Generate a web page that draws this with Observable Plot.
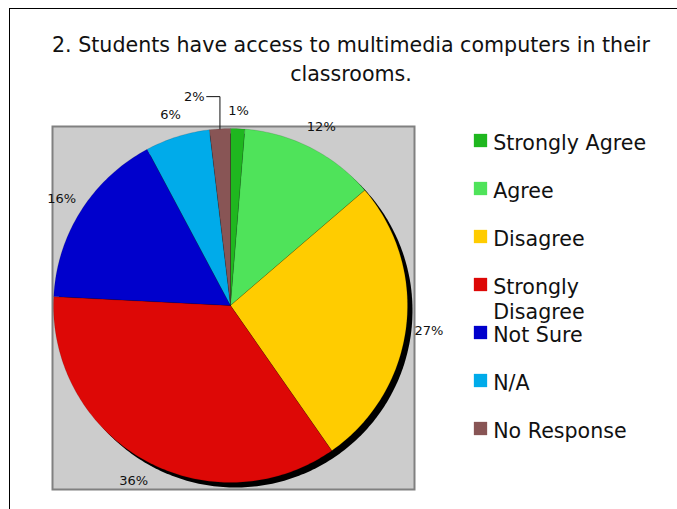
<!DOCTYPE html>
<html><head><meta charset="utf-8">
<script src="https://cdn.jsdelivr.net/npm/d3@7"></script>
<script src="https://cdn.jsdelivr.net/npm/@observablehq/plot@0.6"></script>
<style>
html,body{margin:0;padding:0;background:#fff;overflow:hidden;}
#wrap{position:relative;width:677px;height:509px;overflow:hidden;font-family:"DejaVu Sans",sans-serif;}
#box{position:absolute;left:9px;top:8px;width:900px;height:900px;border:1px solid #000;box-sizing:border-box;}
#title{position:absolute;left:40px;width:622px;top:31px;text-align:center;font-size:20.6px;line-height:29px;color:#111;}
#pie,#legend{position:absolute;top:0;}
#pie{left:0;} #legend{left:470px;}
</style></head><body>
<div id="wrap"><div id="box"></div><div id="title"></div><div id="pie"></div><div id="legend"></div></div>
<script>
const title = "2. Students have access to multimedia computers in their classrooms.";
const categories = ["Strongly Agree","Agree","Disagree","Strongly Disagree","Not Sure","N/A","No Response"];
const values = [1.3, 12.4, 26.6, 35.5, 16.4, 5.9, 1.9];
const valueLabels = ["1%","12%","27%","36%","16%","6%","2%"];
const colors = ["#1fb71f","#4fe35a","#ffcc00","#dd0806","#0000cc","#00abea","#885555"];

document.getElementById("title").textContent = title;

const arcs = d3.pie().sort(null).value(d => d)(values);
const slicePts = arcs.flatMap((a, i) => {
  const key = categories[i];
  const pts = [{key, x: 0, y: 0}];
  const n = Math.max(2, Math.ceil((a.endAngle - a.startAngle) / (2 * Math.PI) * 360));
  for (let k = 0; k <= n; k++) {
    const t = a.startAngle + (a.endAngle - a.startAngle) * k / n;
    pts.push({key, x: Math.sin(t), y: Math.cos(t)});
  }
  pts.push({key, x: 0, y: 0});
  return pts;
});
const circlePts = d3.range(0, 361).map(deg => ({x: Math.sin(deg * Math.PI / 180), y: Math.cos(deg * Math.PI / 180)}));

const R = 1.13;
const labelData = arcs.map((a, i) => {
  const m = (a.startAngle + a.endAngle) / 2;
  const r = (a.endAngle - a.startAngle) < 0.1 ? 1.1 : R;
  return {key: categories[i], text: valueLabels[i], x: r * Math.sin(m), y: r * Math.cos(m), ex: Math.sin(m), ey: Math.cos(m)};
});
const calloutKey = "No Response";
const plain = labelData.filter(d => d.key !== calloutKey);
const co = labelData.find(d => d.key === calloutKey);
const leadY = 1.18, leadLen = 0.075;
const leader = [{x: co.ex, y: co.ey}, {x: co.ex, y: leadY}, {x: co.ex - leadLen, y: leadY}];
const coLabel = [{x: co.ex - leadLen, y: leadY, text: co.text}];

const pie = Plot.plot({
  width: 677, height: 509,
  marginLeft: 52, marginRight: 263, marginTop: 126, marginBottom: 20,
  x: {domain: [-1, 1], range: [53, 407], axis: null},
  y: {domain: [-1, 1], range: [482, 128], axis: null},
  color: {domain: categories, range: colors},
  style: {background: "transparent", overflow: "visible", fontFamily: "DejaVu Sans"},
  marks: [
    Plot.frame({fill: "#cccccc", stroke: "#808080", strokeWidth: 2}),
    Plot.line(circlePts, {x: "x", y: "y", fill: "#000", stroke: "none", dx: 5, dy: 5}),
    Plot.line(slicePts, {x: "x", y: "y", z: "key", fill: "key", stroke: "#000", strokeOpacity: 0.25, strokeWidth: 0.5}),
    Plot.text(plain, {x: "x", y: "y", text: "text", fontSize: 13, fill: "#111"}),
    Plot.line(leader, {x: "x", y: "y", stroke: "#111", strokeWidth: 1, curve: "linear"}),
    Plot.text(coLabel, {x: "x", y: "y", text: "text", fontSize: 13, fill: "#111", textAnchor: "end", dx: -2})
  ]
});
document.getElementById("pie").appendChild(pie);

const legend = Plot.plot({
  width: 207, height: 509, margin: 0,
  y: {type: "point", domain: categories, range: [138.5, 428.5], padding: 0, axis: null},
  color: {domain: categories, range: colors},
  style: {background: "transparent", overflow: "visible", fontFamily: "DejaVu Sans"},
  marks: [
    Plot.dot(categories, {y: d => d, fill: d => d, symbol: "square", r: 7.5, frameAnchor: "left", dx: 10, stroke: "none"}),
    Plot.text(categories, {y: d => d, text: d => d, frameAnchor: "left", dx: 22.7, textAnchor: "start", fontSize: 20.6, lineWidth: 7.2, lineHeight: 1.18, lineAnchor: "top", dy: -7.4, fill: "#111"})
  ]
});
document.getElementById("legend").appendChild(legend);
</script>
</body></html>
